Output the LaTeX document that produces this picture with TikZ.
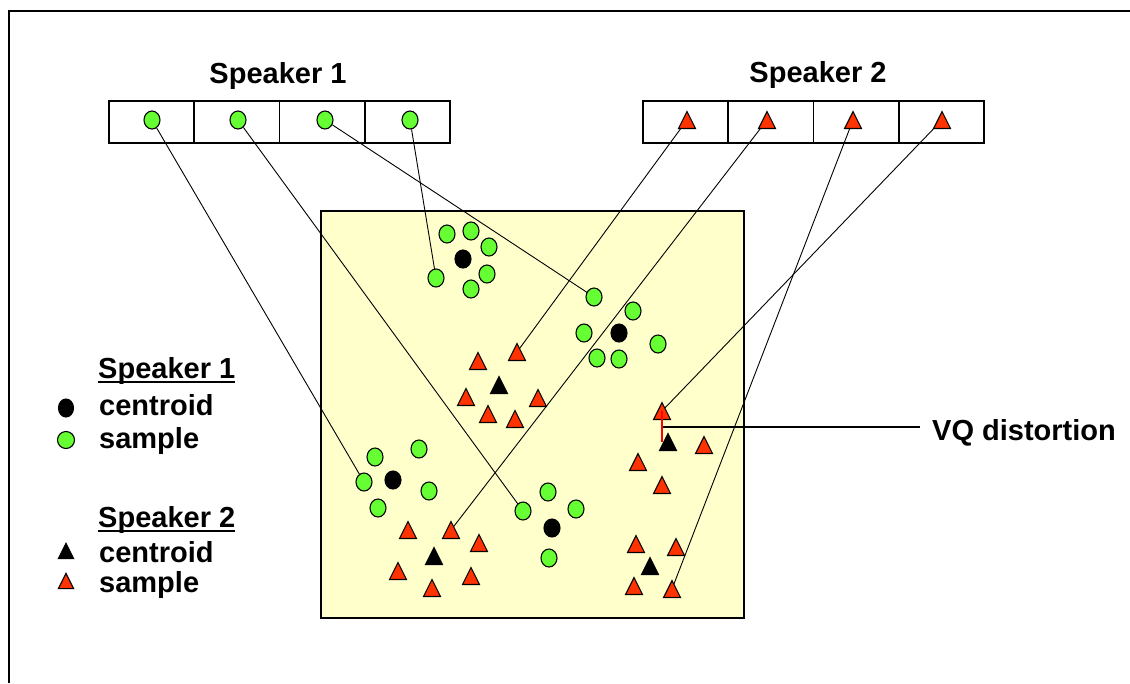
\documentclass[tikz,border=0pt]{standalone}
\usepackage{fontspec}
\setmainfont{Liberation Sans}
\usetikzlibrary{shapes.geometric,backgrounds}
\definecolor{dotgreen}{RGB}{102,255,51}
\definecolor{trired}{RGB}{255,51,0}
\definecolor{plane}{RGB}{255,255,204}
\begin{document}
\begin{tikzpicture}[x=1pt,y=-1pt,
  lbl/.style={font=\fontsize{29}{32}\selectfont\bfseries, inner sep=0pt},
  cell/.style={draw, line width=1.6pt, minimum width=85.25pt, minimum height=42pt, inner sep=0pt},
  dot/.style={ellipse, draw=black, line width=1.1pt, minimum width=16pt, minimum height=18pt, inner sep=0pt},
  gdot/.style={dot, fill=dotgreen},
  kdot/.style={dot, fill=black},
  rtri/.style={fill=trired, draw=black, line width=1.1pt},
  ktri/.style={fill=black, draw=black, line width=1.1pt},
  link/.style={line width=0.9pt},
  tri/.pic={\coordinate (-c) at (0,0);
    \path[pic actions, line join=miter] (-8.5,8.5) -- (8.5,8.5) -- (0,-8.5) -- cycle;}
]
\useasboundingbox (0,0) rectangle (1130,683);
% open frame
\draw[line width=1.8pt] (9,683) -- (9,11) -- (1130,11);

% codebook cells
\foreach \i in {0,...,3}{
  \node[cell] (a\i) at ({109+85.25*(\i+0.5)},122) {};
  \node[cell] (b\i) at ({643+85.25*(\i+0.5)},122) {};
}
\node[lbl, anchor=base] (h1) at (278,83) {Speaker 1};
\node[lbl, anchor=base] (h2) at (818,82) {Speaker 2};

% codebook entries
\node[gdot] (m1) at (152,120) {};
\node[gdot] (m2) at (238,120) {};
\node[gdot] (m3) at (325,120) {};
\node[gdot] (m4) at (410,120) {};
\pic[rtri] (n1) at (687,120) {tri};
\pic[rtri] (n2) at (767,120) {tri};
\pic[rtri] (n3) at (853,120) {tri};
\pic[rtri] (n4) at (942,120) {tri};

% speaker 1 clusters
\node[kdot] (c1) at (463,259) {};
\node[gdot] (c1a) at (447,234) {};
\node[gdot] (c1b) at (471,231) {};
\node[gdot] (c1c) at (489,247) {};
\node[gdot] (c1d) at (436,278) {};
\node[gdot] (c1e) at (487,274) {};
\node[gdot] (c1f) at (471,289) {};

\node[kdot] (c2) at (619,333) {};
\node[gdot] (c2a) at (594,297) {};
\node[gdot] (c2b) at (633,311) {};
\node[gdot] (c2c) at (584,333) {};
\node[gdot] (c2d) at (658,344) {};
\node[gdot] (c2e) at (597,358) {};
\node[gdot] (c2f) at (619,359) {};

\node[kdot] (c3) at (393,480) {};
\node[gdot] (c3a) at (375,457) {};
\node[gdot] (c3b) at (419,449) {};
\node[gdot] (c3c) at (364,482) {};
\node[gdot] (c3d) at (429,491) {};
\node[gdot] (c3e) at (378,508) {};

\node[kdot] (c4) at (552,528) {};
\node[gdot] (c4a) at (548,492) {};
\node[gdot] (c4b) at (576,509) {};
\node[gdot] (c4c) at (523,511) {};
\node[gdot] (c4d) at (549,558) {};

% speaker 2 clusters
\pic[ktri] (t1) at (499,385) {tri};
\pic[rtri] (t1a) at (478,361) {tri};
\pic[rtri] (t1b) at (517,352) {tri};
\pic[rtri] (t1c) at (466,397) {tri};
\pic[rtri] (t1d) at (538,398) {tri};
\pic[rtri] (t1e) at (488,414) {tri};
\pic[rtri] (t1f) at (515,419) {tri};

\pic[ktri] (t2) at (434,556) {tri};
\pic[rtri] (t2a) at (408,530) {tri};
\pic[rtri] (t2b) at (451,530) {tri};
\pic[rtri] (t2c) at (479,543) {tri};
\pic[rtri] (t2d) at (398,571) {tri};
\pic[rtri] (t2e) at (471,576) {tri};
\pic[rtri] (t2f) at (432,588) {tri};

\pic[ktri] (t3) at (668,442) {tri};
\pic[rtri] (t3a) at (662,411) {tri};
\pic[rtri] (t3b) at (704,445) {tri};
\pic[rtri] (t3c) at (638,462) {tri};
\pic[rtri] (t3d) at (662,485) {tri};

\pic[ktri] (t4) at (650,566) {tri};
\pic[rtri] (t4a) at (636,544) {tri};
\pic[rtri] (t4b) at (676,547) {tri};
\pic[rtri] (t4c) at (634,586) {tri};
\pic[rtri] (t4d) at (672,589) {tri};

% feature space and codebook links, behind the markers
\begin{pgfonlayer}{background}
  \fill[plane] (321,211) rectangle (744,618);
  \draw[line width=1.6pt] (321,211) rectangle (744,618);
  \draw[link] (m1) -- (c3c.center);
  \draw[link] (m2) -- (c4c.center);
  \draw[link] (m3) -- (c2a.center);
  \draw[link] (m4) -- (c1d.center);
  \draw[link] (n1-c) -- (t1b-c);
  \draw[link] (n2-c) -- (t2b-c);
  \draw[link] (n3-c) -- (t4d-c);
  \draw[link] (n4-c) -- (t3a-c);
\end{pgfonlayer}

% VQ distortion callout
\node[lbl, anchor=base west] (vq) at (932,440) {VQ distortion};
\coordinate (vqm) at (662,427);
\draw[line width=1.6pt] (vqm) -- ([xshift=-12pt]vqm -| vq.west);
\draw[red, line width=1.6pt] (t3a-c) -- (t3a-c |- t3-c);

% legend
\node[lbl, anchor=base west] (k1) at (98,378) {Speaker 1};
\draw[line width=1.3pt] ([yshift=-4pt]k1.base west) -- ([yshift=-4pt]k1.base east);
\node[kdot, minimum width=15pt] (k2m) at (66,408) {};
\node[lbl, anchor=base west] (k2) at (99,415) {centroid};
\node[gdot, minimum width=17pt, minimum height=17pt] (k3m) at (66,440) {};
\node[lbl, anchor=base west] (k3) at (99,448) {sample};
\node[lbl, anchor=base west] (k4) at (98,527) {Speaker 2};
\draw[line width=1.3pt] ([yshift=-4pt]k4.base west) -- ([yshift=-4pt]k4.base east);
\pic[ktri, scale=0.9] (k5m) at (66,551) {tri};
\node[lbl, anchor=base west] (k5) at (99,562) {centroid};
\pic[rtri, scale=0.9] (k6m) at (66,581) {tri};
\node[lbl, anchor=base west] (k6) at (99,592) {sample};
\end{tikzpicture}
\end{document}
